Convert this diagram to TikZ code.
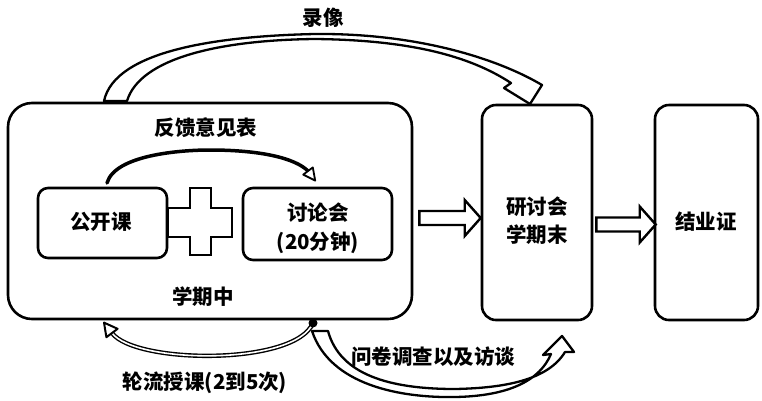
\documentclass[tikz,border=0pt]{standalone}
\usepackage{fontspec}
\setmainfont{Noto Sans CJK SC}
\usetikzlibrary{calc}
\tikzset{
  box/.style={draw, line width=2.6pt, rounded corners=#1, inner sep=0pt, fill=white},
  box/.default=12pt,
  lbl/.style={inner sep=0pt, font=\fontsize{20.5}{24}\selectfont\bfseries},
  hollow/.style={draw, line width=2.4pt, fill=white, line join=miter},
  band/.style={draw, line width=2.3pt, fill=white, line join=round},
}
\def\myharrow#1#2{%
  \draw[hollow] ($(#1)+(0,-7)$) -- ($(#2)+(-16,-7)$) -- ($(#2)+(-16,-18)$) -- (#2)
     -- ($(#2)+(-16,18)$) -- ($(#2)+(-16,7)$) -- ($(#1)+(0,7)$) -- cycle;}
\begin{document}
\begin{tikzpicture}[x=1pt,y=-1pt]
\useasboundingbox (0,0) rectangle (762,400);

% main boxes
\node[box=24pt, minimum width=404pt, minimum height=216pt] (big) at (210,211) {};
\node[box=14pt, minimum width=110pt, minimum height=215pt] (mid) at (537,212.5) {};
\node[box=14pt, minimum width=103pt, minimum height=215pt] (end) at (706.5,212.5) {};

% inner boxes
\node[box=10pt, minimum width=129pt, minimum height=70pt] (gkk) at (102.5,223) {};
\node[box=10pt, minimum width=149pt, minimum height=72pt] (tlh) at (317.5,224) {};

% plus sign
\draw[hollow, line width=2.6pt] (190,188) -- (211,188) -- (211,208) -- (232,208) -- (232,237)
  -- (211,237) -- (211,255) -- (190,255) -- (190,237) -- (168,237) -- (168,208) -- (190,208) -- cycle;

% texts
\node[lbl] (t1) at (101,222) {公开课};
\node[lbl] (t2) at (318,213) {讨论会};
\node[lbl] (t3) at (318,243) {(20分钟)};
\node[lbl] (t4) at (206,128) {反馈意见表};
\node[lbl] (t5) at (203,297) {学期中};
\node[lbl] (t6) at (537,207) {研讨会};
\node[lbl] (t7) at (537,235) {学期末};
\node[lbl] (t8) at (706,222) {结业证};
\node[lbl] (t9) at (323,18) {录像};
\node[lbl] (t10) at (433,357) {问卷调查以及访谈};
\node[lbl] (t11) at (205,383) {轮流授课(2到5次)};

% straight hollow arrows
\coordinate (a1s) at ($(big.east)+(6,7)$);
\coordinate (a1e) at (mid.west |- a1s);
\myharrow{a1s}{a1e}
\coordinate (a2s) at ($(mid.east)+(3,12)$);
\coordinate (a2e) at ($(end.west |- a2s)+(2,0)$);
\myharrow{a2s}{a2e}

% top curved arrow (录像)
\coordinate (topE) at (530,104);
\draw[band] (104,101) .. controls (115,50) and (220,36) .. (315,34)
   .. controls (420,33) and (500,60) .. (542,85) -- (topE) -- (504,88) -- (511,83)
   .. controls (470,56) and (410,40) .. (315,39)
   .. controls (220,40) and (140,58) .. (127,101) -- cycle;

% bottom right curved arrow (问卷调查以及访谈)
\coordinate (brE) at (562,336);
\draw[band] (312,331) .. controls (330,385) and (400,398) .. (455,397)
   .. controls (510,396) and (540,380) .. (551,354) -- (543,355) -- (brE) -- (574,352) -- (565,352)
   .. controls (548,380) and (505,388) .. (455,389)
   .. controls (390,389) and (340,375) .. (328,331) -- cycle;

% bottom left curved arrow (轮流授课)
\coordinate (blS) at (313,323);
\coordinate (blE) at (112,333);
\draw[line width=1.4pt, double=white, double distance=1.6pt] (blS) .. controls (295,366) and (135,364) .. (blE);
\fill (blS) circle (4.5pt);
\draw[line width=2pt, fill=white, line join=round] (104,322.6) -- (117.6,328.8) -- (106.4,337.2) -- cycle;

% feedback arc
\coordinate (fbS) at (107,183);
\coordinate (fbE) at (308,171);
\draw[line width=3.5pt, line cap=round] (fbS) .. controls (115,155) and (180,150) .. (210,150)
   .. controls (260,150) and (295,158) .. (fbE);
\draw[line width=1.8pt, fill=white, line join=round] (312.8,167.4) -- (315.2,180.6) -- (303.2,174.6) -- cycle;
\end{tikzpicture}
\end{document}
